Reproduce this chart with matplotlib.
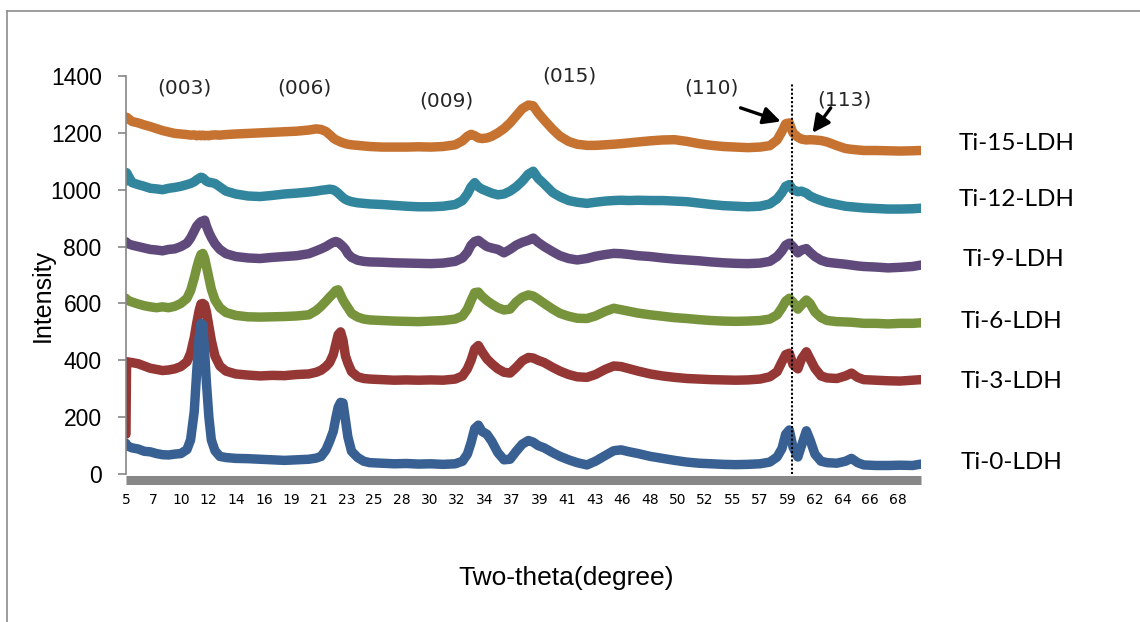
"""XRD patterns of the Ti-x-LDH samples, stacked with offsets."""

from __future__ import annotations

import matplotlib

matplotlib.use("Agg")
import matplotlib.pyplot as plt
from matplotlib.lines import Line2D


TWO_THETA = [
    5.0, 5.05, 5.5, 6.0, 6.5, 7.0, 7.5, 8.0, 8.5, 9.0,
    9.5, 10.0, 10.3, 10.6, 10.8, 11.0, 11.15, 11.3, 11.45, 11.6,
    11.8, 12.0, 12.3, 12.7, 13.2, 14.0, 15.0, 16.0, 17.0, 18.0,
    19.0, 20.0, 20.6, 21.0, 21.4, 21.7, 22.0, 22.2, 22.4, 22.6,
    22.8, 23.0, 23.2, 23.5, 24.0, 24.5, 25.0, 26.0, 27.0, 28.0,
    29.0, 30.0, 31.0, 32.0, 32.6, 33.0, 33.3, 33.6, 33.9, 34.2,
    34.6, 35.0, 35.5, 36.0, 36.5, 37.0, 37.5, 38.0, 38.4, 38.8,
    39.3, 40.0, 40.6, 41.3, 42.0, 42.8, 43.5, 44.3, 45.0, 45.6,
    46.3, 47.0, 48.0, 49.0, 50.0, 51.0, 52.0, 53.0, 54.0, 55.0,
    56.0, 57.0, 57.8, 58.4, 58.8, 59.1, 59.4, 59.7, 60.1, 60.4,
    60.8, 61.1, 61.5, 62.0, 62.5, 63.3, 64.0, 64.5, 65.0, 65.5,
    66.5, 67.5, 68.5, 69.5, 70.2,
]

TI_0 = [
    108, 100, 92, 88, 80, 78, 72, 68, 67, 70,
    72, 86, 120, 220, 360, 480, 530, 525, 430, 320,
    200, 120, 82, 62, 58, 55, 54, 52, 50, 48,
    50, 52, 56, 62, 85, 115, 150, 195, 235, 252,
    250, 190, 130, 80, 58, 45, 40, 38, 36, 37,
    35, 36, 34, 36, 45, 70, 110, 160, 172, 150,
    140, 115, 75, 50, 52, 80, 105, 118, 112, 100,
    92, 75, 62, 50, 40, 32, 45, 65, 82, 85,
    78, 72, 62, 55, 48, 42, 38, 36, 34, 33,
    34, 36, 42, 60, 90, 140, 155, 95, 60, 100,
    152, 120, 70, 45, 40, 38, 45, 55, 40, 32,
    30, 30, 31, 30, 35,
]

TI_3 = [
    140, 395, 392, 388, 380, 372, 368, 364, 366, 370,
    378, 395, 425, 480, 530, 575, 598, 600, 595, 570,
    520, 470, 415, 380, 362, 352, 348, 345, 347, 346,
    350, 352, 358, 365, 378, 392, 420, 455, 490, 500,
    470, 415, 390, 360, 342, 336, 334, 332, 330, 331,
    330, 331, 330, 334, 345, 370, 400, 440, 452, 430,
    405, 388, 370, 358, 355, 375, 398, 410, 408, 400,
    392, 375, 362, 350, 342, 340, 350, 368, 380, 378,
    370, 362, 352, 345, 340, 336, 334, 332, 331, 330,
    331, 334, 342, 360, 395, 420, 425, 385, 370, 405,
    430, 405, 372, 345, 338, 336, 345, 355, 340, 332,
    330, 328, 327, 330, 332,
]

TI_6 = [
    618, 612, 605, 598, 592, 588, 585, 588, 585, 590,
    600, 618, 645, 690, 725, 755, 772, 776, 760, 730,
    690, 650, 612, 585, 568, 558, 553, 552, 553, 554,
    556, 560, 575, 590, 608, 622, 635, 645, 648, 630,
    612, 598, 585, 565, 552, 545, 542, 540, 538, 537,
    536, 538, 540, 545, 556, 580, 610, 638, 640, 625,
    610, 598, 585, 577, 580, 605, 622, 630, 626, 615,
    600, 580, 565, 555, 548, 547, 556, 572, 583, 578,
    572, 566, 560, 555, 550, 547, 543, 540, 538, 537,
    538, 540, 545, 560, 585, 608, 618, 605, 580, 595,
    612, 600, 570, 550, 540, 536, 535, 534, 532, 530,
    530, 528, 530, 530, 532,
]

TI_9 = [
    817, 812, 805, 800, 795, 790, 788, 785, 790, 792,
    800, 812, 830, 855, 872, 882, 888, 890, 893, 872,
    850, 832, 810, 790, 775, 765, 760, 758, 762, 765,
    768, 775, 785, 792, 800, 808, 815, 818, 815, 808,
    800, 790, 775, 762, 752, 748, 746, 745, 743, 742,
    741, 740, 742, 748, 760, 780, 805, 818, 822, 812,
    800, 795, 790, 778, 790, 805, 815, 822, 830, 815,
    800, 782, 768, 758, 753, 758, 766, 772, 776, 775,
    772, 768, 765, 760, 756, 753, 750, 746, 743, 741,
    740, 742, 748, 765, 785, 805, 812, 800, 778, 788,
    793, 780, 765, 752, 745, 741, 738, 735, 732, 730,
    728, 725, 727, 730, 735,
]

TI_12 = [
    1030, 1060, 1025, 1018, 1012, 1005, 1003, 1000, 1005, 1008,
    1012, 1018, 1022, 1028, 1035, 1040, 1044, 1042, 1036, 1030,
    1026, 1025, 1022, 1010, 995, 985, 978, 976, 980, 985,
    988, 992, 995, 998, 1000, 1002, 1000, 995, 988, 980,
    972, 966, 962, 958, 954, 952, 950, 948, 945, 942,
    940, 940, 942, 948, 962, 985, 1010, 1025, 1010, 1002,
    995, 988, 982, 985, 995, 1010, 1030, 1055, 1065, 1040,
    1020, 990, 975, 962, 956, 952, 956, 960, 962, 963,
    962, 963, 962, 962, 960, 958, 953, 948, 944, 942,
    940, 942, 950, 968, 990, 1012, 1018, 1000, 993, 995,
    988, 978, 970, 962, 955, 948, 942, 940, 938, 936,
    934, 932, 932, 933, 935,
]

TI_15 = [
    1250, 1255, 1240, 1235, 1228, 1222, 1215, 1208, 1203, 1198,
    1196, 1194, 1192, 1193, 1190, 1192, 1190, 1192, 1190, 1191,
    1190, 1192, 1193, 1192, 1194, 1196, 1198, 1200, 1202, 1204,
    1206, 1210, 1214, 1212, 1205, 1194, 1182, 1176, 1172, 1168,
    1165, 1162, 1160, 1158, 1156, 1154, 1152, 1150, 1150, 1150,
    1151, 1150, 1152, 1158, 1172, 1188, 1195, 1190, 1182, 1180,
    1182, 1188, 1200, 1215, 1235, 1260, 1285, 1298, 1295, 1270,
    1245, 1212, 1188, 1170, 1160, 1156, 1156, 1158, 1160, 1162,
    1165, 1168, 1172, 1175, 1176, 1170, 1162, 1156, 1152, 1150,
    1148, 1150, 1155, 1175, 1205, 1232, 1235, 1200, 1185, 1178,
    1175, 1176, 1175, 1173, 1168, 1155, 1145, 1142, 1140, 1138,
    1138, 1137, 1136, 1137, 1138,
]

SERIES = [TI_15, TI_12, TI_9, TI_6, TI_3, TI_0]
SERIES_LABELS = ["Ti-15-LDH", "Ti-12-LDH", "Ti-9-LDH", "Ti-6-LDH", "Ti-3-LDH", "Ti-0-LDH"]
SERIES_COLORS = ["#C67332", "#31859C", "#604A7B", "#77933C", "#953735", "#386092"]

TICK_LABELS = [
    "5", "7", "10", "12", "14", "16", "19", "21", "23", "25", "28", "30", "32", "34", "37",
    "39", "41", "43", "46", "48", "50", "52", "55", "57", "59", "62", "64", "66", "68",
]
Y_TICKS = [0, 200, 400, 600, 800, 1000, 1200, 1400]

PEAK_LABELS = ["(003)", "(006)", "(009)", "(015)", "(110)", "(113)"]
PEAK_LABEL_XY = [(9.8, 1358), (19.65, 1358), (31.3, 1313), (41.4, 1400), (53.05, 1358), (63.9, 1316)]
SERIES_LABEL_XY = [(73.3, 1161), (73.3, 967), (73.6, 753), (73.45, 535), (73.45, 324), (73.45, 39)]

TICK_STEP = 2.261
MARKER_LINE_X = 59.6


def main() -> None:
    fig = plt.figure(figsize=(11.4, 6.22), dpi=100)
    ax = fig.add_axes([0.1105, 0.2379, 0.6974, 0.6399])

    for values, color in zip(SERIES, SERIES_COLORS):
        ax.plot(TWO_THETA, values, color=color, lw=6.8, solid_capstyle="round",
                solid_joinstyle="round")

    ax.set_xlim(5, 70.2)
    ax.set_ylim(0, 1400)

    tick_positions = [5 + i * TICK_STEP for i in range(len(TICK_LABELS))]
    ax.set_xticks(tick_positions)
    ax.set_xticklabels(TICK_LABELS, fontsize=13, color="#595959", family="Liberation Sans")
    ax.tick_params(axis="x", length=0, pad=10)
    ax.set_yticks(Y_TICKS)
    ax.set_yticklabels([str(v) for v in Y_TICKS], fontsize=16.5, family="Liberation Sans")
    ax.tick_params(axis="y", direction="out", length=5.5, width=1.2, color="#868686", pad=12)

    for side in ("top", "right"):
        ax.spines[side].set_visible(False)
    ax.spines["left"].set_color("#868686")
    ax.spines["left"].set_linewidth(1.2)
    ax.spines["bottom"].set_color("#878787")
    ax.spines["bottom"].set_linewidth(6.5)
    ax.spines["bottom"].set_position(("outward", 4))
    ax.spines["bottom"].set_capstyle("butt")

    ax.plot([MARKER_LINE_X, MARKER_LINE_X], [0, 1375], color="black", lw=1.5,
            linestyle=(0, (1, 1)), zorder=5)

    for label, (x, y) in zip(PEAK_LABELS, PEAK_LABEL_XY):
        ax.text(x, y, label, ha="center", va="center", fontsize=14.5, color="#262626",
                family="DejaVu Sans", clip_on=False)

    for label, (x, y) in zip(SERIES_LABELS, SERIES_LABEL_XY):
        ax.text(x, y, label, ha="left", va="center", fontsize=17.5, color="black",
                family="Lato", clip_on=False)

    arrow = dict(arrowstyle="-|>", color="black", lw=2.4, mutation_scale=26, shrinkA=0, shrinkB=0)
    ax.annotate("", xy=(58.7, 1240), xytext=(55.4, 1288), arrowprops=arrow, annotation_clip=False)
    ax.annotate("", xy=(61.3, 1200), xytext=(62.8, 1288), arrowprops=arrow, annotation_clip=False)

    fig.text(566 / 1140, 1 - 578 / 622, "Two-theta(degree)", ha="center", va="center",
             fontsize=19, family="Liberation Sans")
    fig.text(43 / 1140, 1 - 295 / 622, "Intensity", ha="center", va="center", rotation=90,
             fontsize=18, family="Liberation Sans")

    frame_x = 7 / 1140
    frame_y = 1 - 11 / 622
    fig.add_artist(Line2D([frame_x, 1], [frame_y, frame_y], transform=fig.transFigure,
                          color="#8c8c8c", lw=1.2))
    fig.add_artist(Line2D([frame_x, frame_x], [0, frame_y], transform=fig.transFigure,
                          color="#8c8c8c", lw=1.2))

    fig.savefig("out.png", dpi=100)
    plt.close(fig)


if __name__ == "__main__":
    main()
